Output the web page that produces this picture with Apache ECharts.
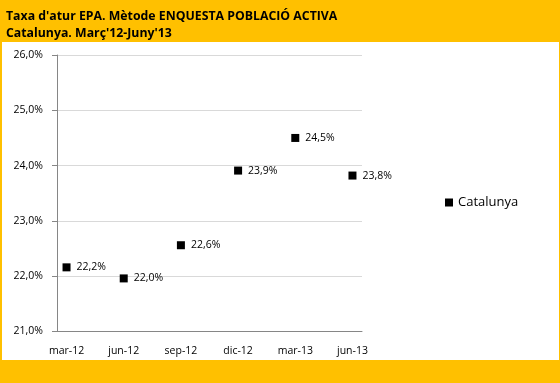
<!DOCTYPE html>
<html>
<head>
<meta charset="utf-8">
<script src="https://cdn.jsdelivr.net/npm/echarts@6/dist/echarts.min.js"></script>
<style>html,body{margin:0;padding:0;background:#FFC000;}#c{width:560px;height:383px;}</style>
</head>
<body>
<div id="c"></div>
<script>
const months = ['mar-12','abr-12','may-12','jun-12','jul-12','ago-12','sep-12','oct-12','nov-12','dic-12','ene-13','feb-13','mar-13','abr-13','may-13','jun-13'];
const categories = ['mar-12','jun-12','sep-12','dic-12','mar-13','jun-13'];
const values = [22.16, 21.96, 22.56, 23.91, 24.50, 23.82];
const yTicks = [21, 22, 23, 24, 25, 26];
const seriesName = 'Catalunya';
const titleLines = ["Taxa d'atur EPA. Mètode ENQUESTA POBLACIÓ ACTIVA", "Catalunya. Març'12-Juny'13"];

const seriesData = months.map(m => {
  const i = categories.indexOf(m);
  return i >= 0 ? values[i] : null;
});
const fmt = v => v.toFixed(1).replace('.', ',') + '%';
const font = 'Open Sans';

const chart = echarts.init(document.getElementById('c'));
chart.setOption({
  backgroundColor: '#FFC000',
  animation: false,
  graphic: [{
    type: 'rect', z: -10, silent: true,
    shape: {x: 2, y: 42, width: 557, height: 318},
    style: {fill: '#ffffff'}
  }],
  title: {
    text: titleLines.join('\n'),
    left: 1, top: 3,
    textStyle: {fontFamily: font, fontWeight: 'bold', fontSize: 12.3, color: '#000', lineHeight: 17}
  },
  legend: {
    data: [{name: seriesName, icon: 'rect'}],
    left: 440, top: 191,
    itemWidth: 8, itemHeight: 8, itemGap: 4,
    textStyle: {fontFamily: font, fontSize: 13, color: '#000'}
  },
  grid: {left: 57, right: 198, top: 55, bottom: 51.5, containLabel: false},
  xAxis: {
    type: 'category',
    data: months,
    boundaryGap: true,
    axisLine: {lineStyle: {color: '#868686', width: 1}},
    axisTick: {interval: 2, alignWithLabel: false, length: 5, lineStyle: {color: '#868686'}},
    axisLabel: {interval: 2, fontFamily: font, fontSize: 10.5, color: '#000', margin: 14},
    splitLine: {show: false}
  },
  yAxis: {
    type: 'value',
    min: 21, max: 26, interval: 1,
    axisLine: {show: true, lineStyle: {color: '#868686', width: 1}},
    axisTick: {show: true, length: 5, lineStyle: {color: '#868686'}},
    axisLabel: {fontFamily: font, fontSize: 10.5, color: '#000', margin: 14, formatter: v => yTicks.includes(v) ? fmt(v) : ''},
    splitLine: {lineStyle: {color: '#d9d9d9', width: 1}}
  },
  series: [{
    name: seriesName,
    type: 'scatter',
    data: seriesData,
    symbol: 'rect',
    symbolSize: 8,
    itemStyle: {color: '#000', opacity: 1},
    label: {
      show: true, position: 'right', distance: 6,
      fontFamily: font, fontSize: 10.5, color: '#000',
      formatter: p => fmt(p.value)
    }
  }]
});
</script>
</body>
</html>
